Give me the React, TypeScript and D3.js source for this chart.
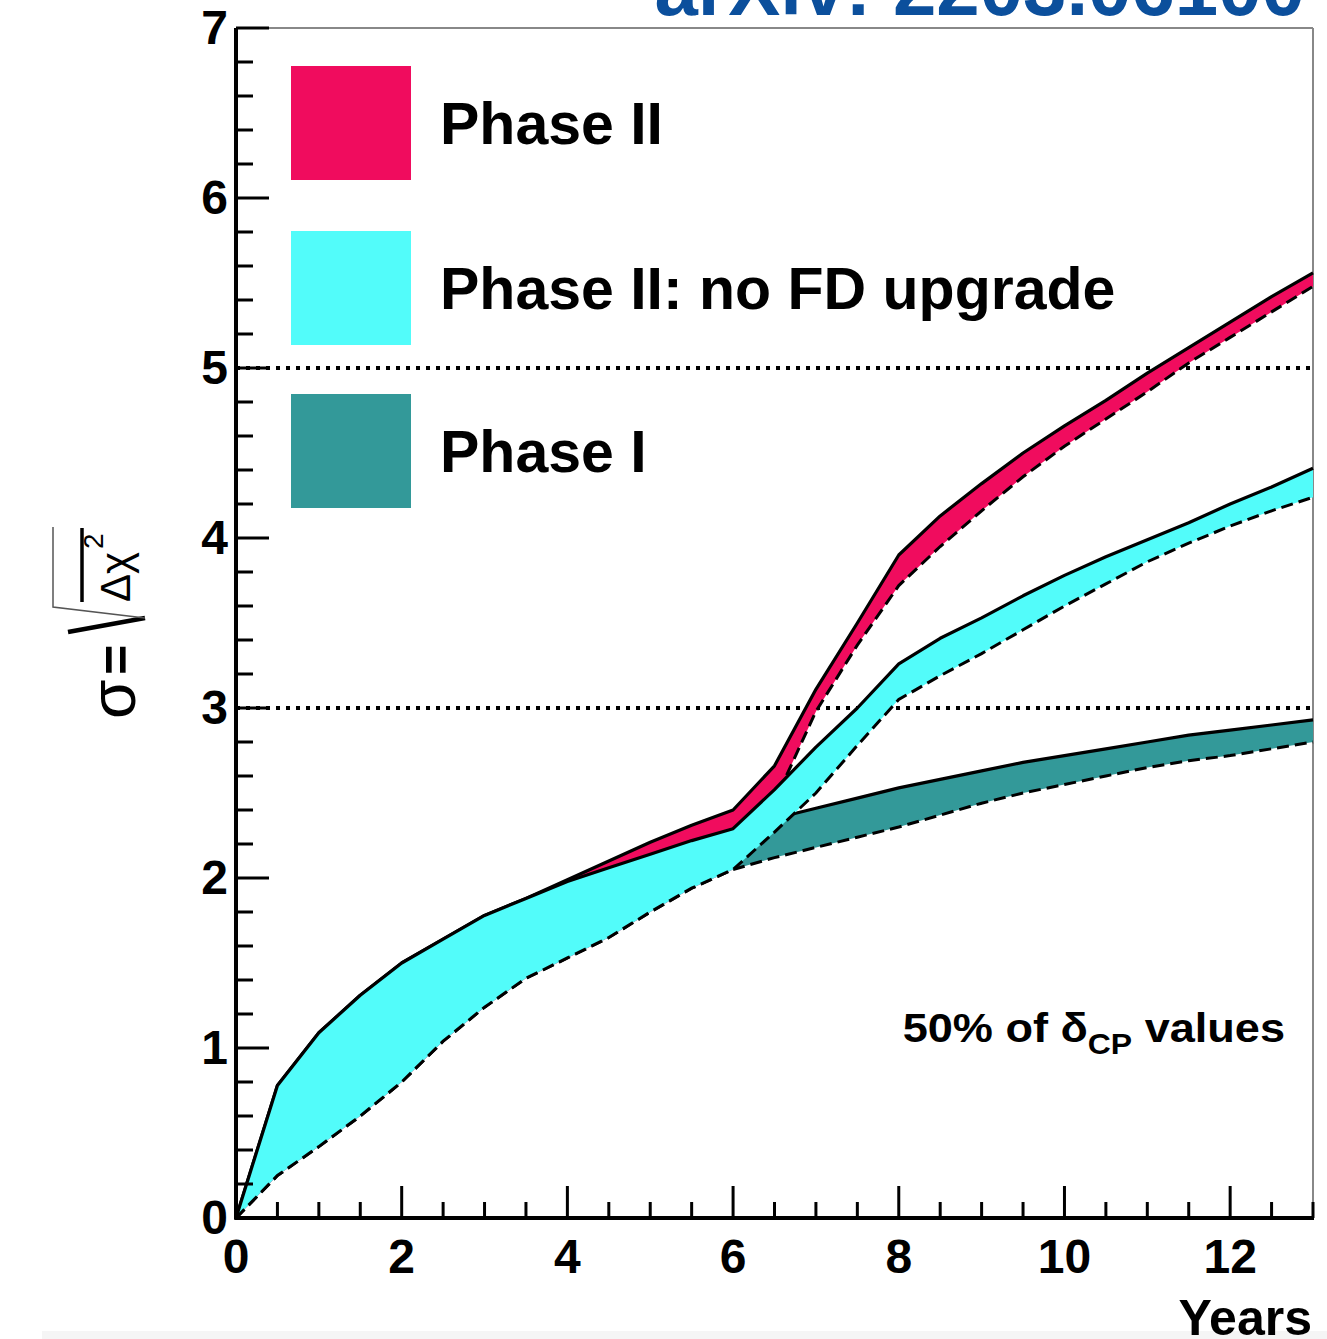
import React from "react";
import * as d3 from "d3";

// ---- data ----
const years = [0, 0.5, 1, 1.5, 2, 2.5, 3, 3.5, 4, 4.5, 5, 5.5, 6, 6.5, 7, 7.5, 8, 8.5, 9, 9.5, 10, 10.5, 11, 11.5, 12, 12.5, 13];
const noFdUpper = [0, 0.78, 1.09, 1.31, 1.5, 1.64, 1.78, 1.88, 1.98, 2.06, 2.14, 2.22, 2.29, 2.52, 2.77, 3.0, 3.26, 3.41, 3.53, 3.66, 3.78, 3.89, 3.99, 4.09, 4.2, 4.3, 4.41];
const noFdLower = [0, 0.25, 0.42, 0.6, 0.8, 1.04, 1.24, 1.41, 1.53, 1.65, 1.8, 1.94, 2.05, 2.27, 2.5, 2.78, 3.05, 3.19, 3.32, 3.46, 3.6, 3.73, 3.86, 3.97, 4.07, 4.16, 4.24];
const phase2Upper = [0, 0.78, 1.09, 1.31, 1.5, 1.64, 1.78, 1.88, 1.99, 2.1, 2.21, 2.31, 2.4, 2.66, 3.11, 3.5, 3.9, 4.13, 4.32, 4.5, 4.66, 4.81, 4.97, 5.12, 5.27, 5.42, 5.56];
const phase2Lower = [0, 0.25, 0.42, 0.6, 0.8, 1.04, 1.24, 1.41, 1.53, 1.65, 1.8, 1.94, 2.05, 2.45, 2.98, 3.37, 3.72, 3.95, 4.16, 4.36, 4.54, 4.7, 4.86, 5.03, 5.18, 5.33, 5.48];
const phase1Years = [6, 6.5, 7, 7.5, 8, 8.5, 9, 9.5, 10, 10.5, 11, 11.5, 12, 12.5, 13];
const phase1Upper = [2.29, 2.35, 2.41, 2.47, 2.53, 2.58, 2.63, 2.68, 2.72, 2.76, 2.8, 2.84, 2.87, 2.9, 2.93];
const phase1Lower = [2.05, 2.12, 2.18, 2.24, 2.3, 2.37, 2.44, 2.5, 2.55, 2.6, 2.65, 2.69, 2.72, 2.76, 2.8];

const xMajorTicks = [0, 2, 4, 6, 8, 10, 12];
const yMajorTicks = [0, 1, 2, 3, 4, 5, 6, 7];
const refLines = [3, 5];
const legendLabels = ["Phase II", "Phase II: no FD upgrade", "Phase I"];

const RED = "#f00c5e";
const CYAN = "#52fcfa";
const TEAL = "#339999";

const W = 1327;
const H = 1339;
const X0 = 236, X1 = 1313, Y0 = 1218, Y1 = 28;
const FONT = "'Liberation Sans', Arial, Helvetica, sans-serif";

export default function App() {
  const x = d3.scaleLinear().domain([0, 13]).range([X0, X1]);
  const y = d3.scaleLinear().domain([0, 7]).range([Y0, Y1]);

  const xMinor = d3.range(0, 13.001, 0.5).filter((v) => Math.abs(v / 2 - Math.round(v / 2)) > 1e-6);
  const yMinor = d3.range(0, 7.001, 0.2).filter((v) => Math.abs(v - Math.round(v)) > 1e-6);

  const band = (xs: number[], lo: number[], hi: number[]) => {
    const pts = xs.map((v, i) => ({ x: v, lo: lo[i], hi: hi[i] }));
    const area = d3
      .area<any>()
      .x((d) => x(d.x))
      .y0((d) => y(d.lo))
      .y1((d) => y(d.hi))(pts) as string;
    const upper = d3
      .line<any>()
      .x((d) => x(d.x))
      .y((d) => y(d.hi))(pts) as string;
    const lower = d3
      .line<any>()
      .x((d) => x(d.x))
      .y((d) => y(d.lo))(pts) as string;
    return { area, upper, lower };
  };

  const bands = [
    { color: RED, ...band(years, phase2Lower, phase2Upper) },
    { color: TEAL, ...band(phase1Years, phase1Lower, phase1Upper) },
    { color: CYAN, ...band(years, noFdLower, noFdUpper) },
  ];

  const legendColors = [RED, CYAN, TEAL];
  const legendTops = [66, 231, 394];

  return (
    <svg
      width={W}
      height={H}
      style={{ position: "absolute", left: 0, top: 0, background: "#fff" }}
      fontFamily={FONT}
    >
      <rect x={0} y={0} width={W} height={H} fill="#fff" />
      <rect x={42} y={1331} width={W - 42} height={H - 1331} fill="#f5f5f5" />

      {/* title (cut at top) */}
      <text x={1305} y={15} textAnchor="end" fontSize={78} fontWeight="bold" fill="#0b4f9c">
        arXiv: 2203.06100
      </text>

      {/* frame top/right */}
      <line x1={X0} y1={Y1} x2={X1} y2={Y1} stroke="#888" strokeWidth={2} />
      <line x1={X1} y1={Y1} x2={X1} y2={Y0} stroke="#888" strokeWidth={2} />

      {/* reference dotted lines */}
      {refLines.map((v) => (
        <line key={v} x1={X0} x2={X1} y1={y(v)} y2={y(v)} stroke="#000" strokeWidth={4} strokeDasharray="4 6" />
      ))}

      {/* bands */}
      {bands.map((b, i) => (
        <g key={i}>
          <path d={b.area} fill={b.color} stroke="none" />
          <path d={b.lower} fill="none" stroke="#000" strokeWidth={3} strokeDasharray="12 6" />
          <path d={b.upper} fill="none" stroke="#000" strokeWidth={3.2} strokeLinejoin="round" />
        </g>
      ))}

      {/* axes */}
      <line x1={X0} y1={Y1} x2={X0} y2={Y0 + 1.5} stroke="#000" strokeWidth={4} />
      <line x1={X0 - 1.5} y1={Y0} x2={X1 + 1} y2={Y0} stroke="#000" strokeWidth={4} />
      {xMajorTicks.map((v) => (
        <line key={"xM" + v} x1={x(v)} x2={x(v)} y1={Y0} y2={Y0 - 32} stroke="#000" strokeWidth={3} />
      ))}
      {xMinor.map((v) => (
        <line key={"xm" + v} x1={x(v)} x2={x(v)} y1={Y0} y2={Y0 - 16} stroke="#000" strokeWidth={3} />
      ))}
      {yMajorTicks.map((v) => (
        <line key={"yM" + v} x1={X0} x2={X0 + 33} y1={y(v)} y2={y(v)} stroke="#000" strokeWidth={3} />
      ))}
      {yMinor.map((v) => (
        <line key={"ym" + v} x1={X0} x2={X0 + 17} y1={y(v)} y2={y(v)} stroke="#000" strokeWidth={3} />
      ))}

      {/* tick labels */}
      {xMajorTicks.map((v) => (
        <text key={"xl" + v} x={x(v)} y={1273} textAnchor="middle" fontSize={48} fontWeight="bold">
          {v}
        </text>
      ))}
      {yMajorTicks.map((v) => (
        <text key={"yl" + v} x={228} y={y(v) + 16} textAnchor="end" fontSize={48} fontWeight="bold">
          {v}
        </text>
      ))}

      {/* axis titles */}
      <text x={1312} y={1335} textAnchor="end" fontSize={50} fontWeight="bold">
        Years
      </text>
      <g>
        <text transform="translate(135,719) rotate(-90)" fontSize={64}>σ</text>
        <text transform="translate(133,675) rotate(-90)" fontSize={52} fontWeight="bold">=</text>
        <path d="M68,632 L145,618" stroke="#000" strokeWidth={4.5} fill="none" />
        <path d="M145,618 L53,607 L53,527" stroke="#555" strokeWidth={1.5} fill="none" />
        <line x1={82} x2={82} y1={528} y2={602} stroke="#000" strokeWidth={3.5} />
        <text transform="translate(130,602) rotate(-90)" fontSize={42}>Δχ</text>
        <text transform="translate(103,549) rotate(-90)" fontSize={28}>2</text>
      </g>

      {/* legend */}
      {legendLabels.map((lab, i) => (
        <g key={lab}>
          <rect x={291} y={legendTops[i]} width={120} height={114} fill={legendColors[i]} />
          <text x={440} y={legendTops[i] + 78} fontSize={59} fontWeight="bold">
            {lab}
          </text>
        </g>
      ))}

      {/* annotation */}
      <g transform="translate(1285,1042) scale(1.1,1)">
        <text x={0} y={0} textAnchor="end" fontSize={41} fontWeight="bold">
          50% of δ
          <tspan fontSize={29} dy={12}>CP</tspan>
          <tspan dy={-12}> values</tspan>
        </text>
      </g>
    </svg>
  );
}
